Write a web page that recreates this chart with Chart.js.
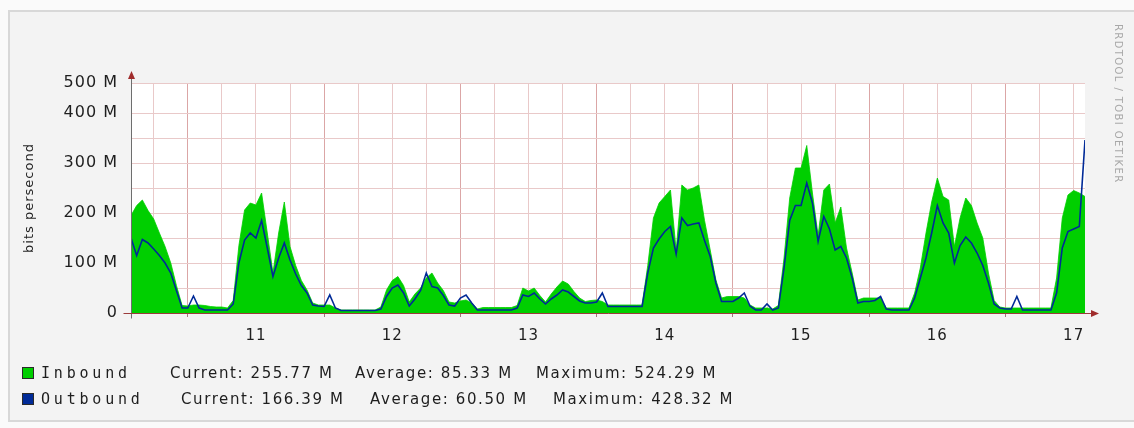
<!DOCTYPE html>
<html>
<head>
<meta charset="utf-8">
<title>Traffic - weekly</title>
<script src="https://cdn.jsdelivr.net/npm/chart.js@4.4.1/dist/chart.umd.min.js"></script>
<style>
  html, body { margin: 0; padding: 0; width: 1134px; height: 428px; overflow: hidden; background: #fafafa; }
  #frame { position: absolute; left: 8px; top: 10px; width: 1126px; height: 408px; background: #f3f3f3;
           border-left: 2px solid #d8d8d8; border-top: 2px solid #d8d8d8; border-bottom: 2px solid #d8d8d8; }
  #graph { position: absolute; left: 0; top: 0; }
  #credit { position: absolute; left: 1113px; top: 24px; writing-mode: vertical-rl; font: 10px "DejaVu Sans", sans-serif;
            color: #a8a8a8; letter-spacing: 1.4px; white-space: nowrap; }
  .leg { position: absolute; font: 15px "DejaVu Sans", sans-serif; color: #1e1e1e; letter-spacing: 1.6px;
         white-space: nowrap; line-height: 18px; }
  .leg.name { font-family: "DejaVu Sans Mono", monospace; font-size: 15px; letter-spacing: 3.8px; }
  .sw { position: absolute; width: 10px; height: 10px; border: 1px solid #2a2a2a; }
</style>
</head>
<body>
<div id="frame"></div>
<canvas id="graph" width="1134" height="428"></canvas>
<div id="credit">RRDTOOL / TOBI OETIKER</div>
<div id="legend"></div>
<script>
// Hourly samples over one week, starting 10th 14:00 (hour 0) and ending 17th 14:00 (hour 168).
const sampleHours = Array.from({ length: 169 }, (_, i) => i);

// Inbound traffic, Mbit/s
const inbound = [
  195, 215, 226, 205, 188, 160, 133, 100, 55, 15, 14, 16,
  16, 15, 13, 12, 12, 10, 25, 135, 206, 220, 216, 240,
  160, 80, 160, 222, 133, 95, 65, 46, 20, 16, 16, 16,
  10, 6, 6, 6, 6, 6, 6, 6, 12, 46, 65, 73,
  55, 22, 38, 50, 70, 80, 60, 45, 22, 20, 24, 26,
  20, 8, 11, 11, 11, 11, 11, 11, 15, 50, 44, 50,
  35, 22, 38, 52, 64, 58, 43, 30, 23, 25, 26, 23,
  16, 16, 16, 16, 16, 16, 16, 95, 190, 220, 233, 246,
  125, 256, 246, 250, 256, 185, 126, 66, 30, 33, 33, 33,
  30, 16, 10, 10, 10, 8, 15, 110, 230, 290, 290, 335,
  240, 155, 246, 258, 180, 212, 130, 80, 26, 30, 30, 30,
  30, 10, 10, 10, 10, 10, 40, 90, 160, 222, 270, 233,
  226, 133, 190, 230, 215, 180, 150, 80, 25, 12, 10, 10,
  10, 10, 10, 10, 10, 10, 10, 70, 190, 236, 245, 240,
  233
];

// Outbound traffic, Mbit/s
const outbound = [
  150, 115, 147, 140, 128, 115, 100, 80, 45, 10, 10, 34,
  10, 6, 6, 6, 6, 6, 18, 100, 146, 160, 150, 185,
  130, 73, 110, 140, 106, 78, 55, 40, 16, 14, 13, 36,
  10, 5, 5, 5, 5, 5, 5, 5, 8, 33, 50, 56,
  40, 14, 28, 45, 80, 53, 50, 35, 16, 14, 30, 36,
  20, 6, 6, 6, 6, 6, 6, 6, 10, 36, 33, 40,
  28, 18, 28, 36, 46, 42, 33, 24, 20, 20, 22, 40,
  13, 13, 13, 13, 13, 13, 13, 80, 130, 148, 163, 173,
  118, 190, 175, 178, 180, 145, 113, 60, 23, 23, 23, 30,
  40, 14, 6, 6, 18, 6, 10, 90, 185, 215, 215, 260,
  220, 143, 193, 168, 126, 133, 110, 70, 20, 23, 23, 25,
  33, 8, 6, 6, 6, 6, 30, 70, 110, 160, 215, 180,
  160, 100, 135, 152, 140, 120, 95, 60, 18, 10, 8, 8,
  33, 6, 6, 6, 6, 6, 6, 40, 130, 163, 168, 173,
  346
];

// Day labels sit at noon of each day; grid every 6 hours, midnight lines are major.
const dayLabels = ['11', '12', '13', '14', '15', '16', '17'];
const dayNoonHours = [22, 46, 70, 94, 118, 142, 166];
const gridHours = [4, 10, 16, 22, 28, 34, 40, 46, 52, 58, 64, 70, 76, 82, 88, 94, 100, 106,
                   112, 118, 124, 130, 136, 142, 148, 154, 160, 166];
const midnightHours = [10, 34, 58, 82, 106, 130, 154];

// Value axis: gridlines every 50 M, labels every 100 M, plus the label at the top edge.
const yGridValues = [0, 50, 100, 150, 200, 250, 300, 350, 400];
const yLabelValues = [0, 100, 200, 300, 400];
const yLabelTexts = ['0', '100 M', '200 M', '300 M', '400 M'];
const yTop = 460;
const yTopLabel = '500 M';

// Legend rows
const seriesNames = ['Inbound', 'Outbound'];
const seriesColors = ['#00CF00', '#002A97'];
const currentValues = ['255.77 M', '166.39 M'];
const averageValues = ['85.33 M', '60.50 M'];
const maximumValues = ['524.29 M', '428.32 M'];

// ---- legend markup ----
const legendEl = document.getElementById('legend');
const legendRows = [
  { top: 364, cols: [41, 170, 355, 536] },
  { top: 390, cols: [41, 181, 370, 553] }
];
seriesNames.forEach((name, i) => {
  const row = legendRows[i];
  const sw = document.createElement('div');
  sw.className = 'sw';
  sw.style.left = '22px';
  sw.style.top = (row.top + 3) + 'px';
  sw.style.background = seriesColors[i];
  legendEl.appendChild(sw);
  const parts = [name, 'Current: ' + currentValues[i], 'Average:  ' + averageValues[i], 'Maximum: ' + maximumValues[i]];
  parts.forEach((txt, j) => {
    const d = document.createElement('div');
    d.className = 'leg' + (j === 0 ? ' name' : '');
    d.style.left = row.cols[j] + 'px';
    d.style.top = row.top + 'px';
    d.textContent = txt;
    legendEl.appendChild(d);
  });
});

// ---- plot ----
const wideText = {
  id: 'wideText',
  beforeLayout(chart) { chart.ctx.letterSpacing = '1px'; },
  beforeDraw(chart) { chart.ctx.letterSpacing = '1px'; }
};

const plotBackground = {
  id: 'plotBackground',
  beforeDraw(chart) {
    const { ctx, chartArea: a } = chart;
    ctx.save();
    ctx.fillStyle = '#ffffff';
    ctx.fillRect(a.left, a.top, a.right - a.left, a.bottom - a.top);
    ctx.restore();
  }
};

const axisArrows = {
  id: 'axisArrows',
  afterDatasetsDraw(chart) {
    const { ctx, chartArea: a } = chart;
    const x0 = Math.round(chart.scales.x.getPixelForValue(0)) + 0.5;
    const y0 = Math.round(chart.scales.y.getPixelForValue(0)) + 0.5;
    ctx.save();
    // value axis
    ctx.strokeStyle = '#6e6e6e';
    ctx.lineWidth = 1;
    ctx.beginPath();
    ctx.moveTo(x0, y0 + 5);
    ctx.lineTo(x0, a.top - 6);
    ctx.stroke();
    // time axis
    ctx.strokeStyle = '#9b3b3b';
    ctx.beginPath();
    ctx.moveTo(x0 - 8, y0);
    ctx.lineTo(a.right + 8, y0);
    ctx.stroke();
    // arrow heads
    ctx.fillStyle = '#a02c2c';
    ctx.beginPath();
    ctx.moveTo(x0, a.top - 12);
    ctx.lineTo(x0 - 3.5, a.top - 4);
    ctx.lineTo(x0 + 3.5, a.top - 4);
    ctx.closePath();
    ctx.fill();
    ctx.beginPath();
    ctx.moveTo(a.right + 14, y0);
    ctx.lineTo(a.right + 6, y0 - 3.5);
    ctx.lineTo(a.right + 6, y0 + 3.5);
    ctx.closePath();
    ctx.fill();
    ctx.restore();
  }
};

const toPoints = (vals) => sampleHours.map((h, i) => ({ x: h, y: vals[i] }));

new Chart(document.getElementById('graph'), {
  type: 'line',
  data: {
    datasets: [
      {
        label: seriesNames[1],
        data: toPoints(outbound),
        borderColor: seriesColors[1],
        borderWidth: 1.6,
        pointRadius: 0,
        fill: false,
        tension: 0,
        order: 0
      },
      {
        label: seriesNames[0],
        data: toPoints(inbound),
        borderColor: seriesColors[0],
        backgroundColor: seriesColors[0],
        borderWidth: 0.8,
        pointRadius: 0,
        fill: 'origin',
        tension: 0,
        order: 1
      }
    ]
  },
  options: {
    responsive: false,
    animation: false,
    devicePixelRatio: 1,
    events: [],
    layout: { padding: { top: 83, right: 49, left: 0, bottom: 0 } },
    plugins: { legend: { display: false }, tooltip: { enabled: false } },
    scales: {
      x: {
        type: 'linear',
        min: 0,
        max: 168,
        afterBuildTicks(scale) { scale.ticks = gridHours.map(v => ({ value: v })); },
        afterFit(scale) { scale.height = 115; },
        border: { display: false },
        grid: {
          color: (c) => midnightHours.includes(c.tick.value) ? '#dba6a6' : '#e9c9c9',
          lineWidth: 1,
          drawTicks: true,
          tickLength: 4,
          tickColor: (c) => midnightHours.includes(c.tick.value) ? '#a07878' : 'rgba(0,0,0,0)'
        },
        ticks: {
          autoSkip: false,
          maxRotation: 0,
          padding: 10,
          color: '#1e1e1e',
          font: { family: 'DejaVu Sans', size: 15 },
          callback: (v) => {
            const k = dayNoonHours.indexOf(v);
            return k >= 0 ? dayLabels[k] : '';
          }
        }
      },
      y: {
        min: 0,
        max: yTop,
        afterBuildTicks(scale) { scale.ticks = yGridValues.concat([yTop]).map(v => ({ value: v })); },
        afterFit(scale) { scale.width = 131; },
        border: { display: false },
        grid: { color: '#e9c9c9', lineWidth: 1, drawTicks: false },
        ticks: {
          padding: 13,
          color: '#1e1e1e',
          font: { family: 'DejaVu Sans', size: 16 },
          callback: (v) => {
            if (v === yTop) return yTopLabel;
            const k = yLabelValues.indexOf(v);
            return k >= 0 ? yLabelTexts[k] : '';
          }
        },
        title: {
          display: true,
          text: 'bits persecond',
          color: '#1e1e1e',
          font: { family: 'DejaVu Sans', size: 13 },
          padding: { top: 22, bottom: 0 }
        }
      }
    }
  },
  plugins: [wideText, plotBackground, axisArrows]
});
</script>
</body>
</html>
